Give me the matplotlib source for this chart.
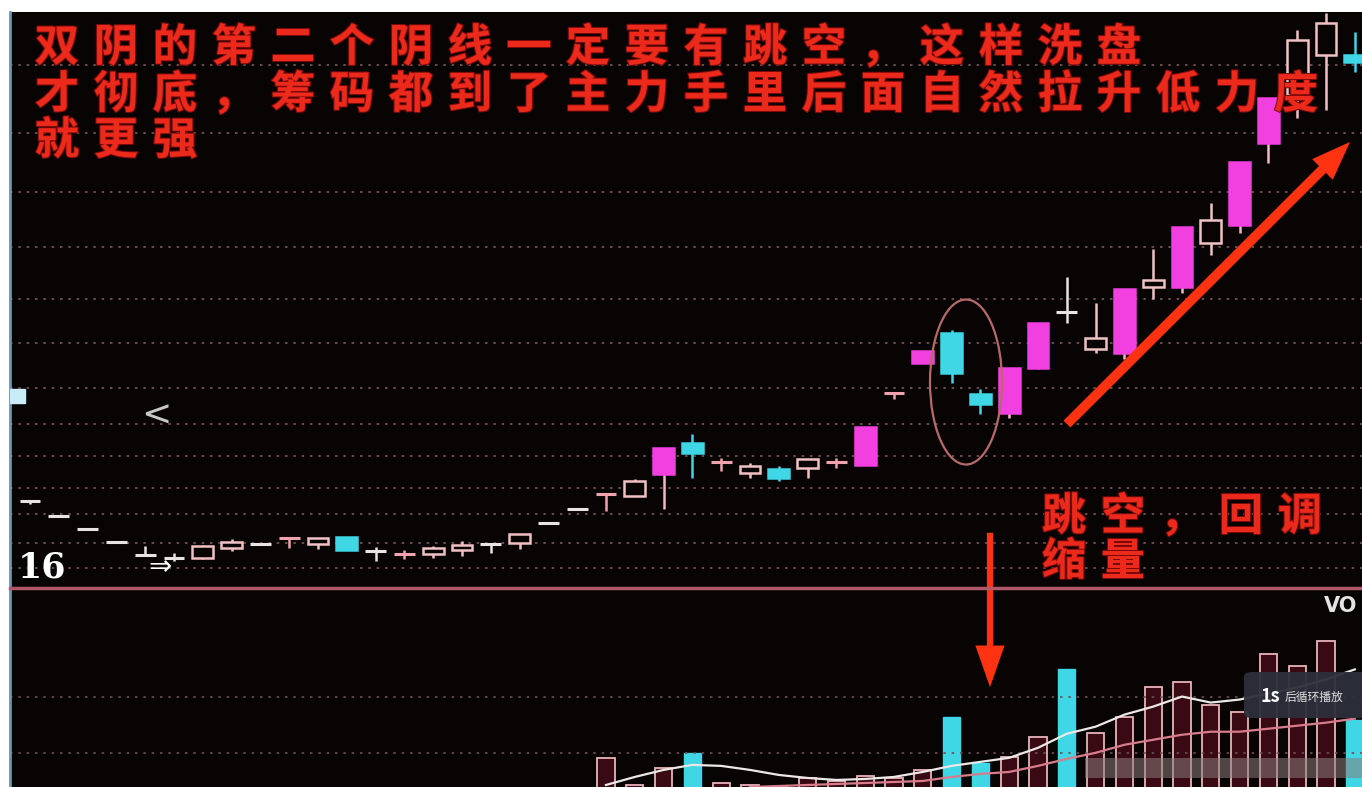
import numpy as np
import matplotlib
matplotlib.use("Agg")
import matplotlib.pyplot as plt
import matplotlib.patheffects as pe
from matplotlib.lines import Line2D
from matplotlib.patches import Ellipse, FancyArrowPatch, FancyBboxPatch, Rectangle

plt.rcParams["font.family"] = ["Noto Sans CJK SC", "DejaVu Sans"]

W, H = 1362, 787

# daily candles (price units)
opens = [18.48, 17.93, 17.44, 16.96, 16.48, 16.37, 16.37, 16.74, 16.89, 17.11,
         16.89, 17.15, 16.63, 16.52, 16.52, 16.67, 16.89, 16.93, 17.67, 18.19,
         18.74, 18.67, 19.48, 20.63, 19.93, 19.52, 19.67, 19.70, 19.93, 19.81,
         22.48, 23.56, 24.70, 22.44, 21.74, 23.41, 25.46, 24.11, 23.93, 26.37,
         26.37, 28.00, 28.67, 31.70, 33.48, 34.96, 34.96]
highs = [18.48, 17.93, 17.44, 16.96, 16.81, 16.56, 16.85, 17.07, 16.89, 17.11,
         17.11, 17.15, 16.78, 16.67, 16.81, 17.00, 16.89, 17.26, 17.67, 18.19,
         18.74, 19.30, 20.44, 20.96, 20.07, 19.89, 19.78, 20.04, 20.07, 21.22,
         22.48, 24.04, 24.78, 22.63, 23.41, 25.04, 26.74, 25.78, 26.33, 27.81,
         28.59, 29.48, 31.00, 33.37, 35.89, 36.52, 35.81]
lows = [18.37, 17.93, 17.44, 16.96, 16.48, 16.26, 16.33, 16.63, 16.89, 16.74,
        16.70, 16.67, 16.26, 16.33, 16.37, 16.44, 16.56, 16.70, 17.67, 18.19,
        18.11, 18.67, 18.19, 19.33, 19.59, 19.33, 19.22, 19.33, 19.70, 19.81,
        22.26, 23.56, 22.85, 21.70, 21.56, 23.37, 25.04, 23.96, 23.74, 25.96,
        26.15, 27.56, 28.37, 30.96, 32.63, 32.93, 34.33]
closes = [18.48, 17.93, 17.44, 16.96, 16.48, 16.37, 16.81, 16.96, 16.89, 17.11,
          17.11, 16.67, 16.63, 16.52, 16.74, 16.85, 16.89, 17.26, 17.67, 18.19,
          18.74, 19.22, 20.44, 20.26, 19.93, 19.78, 19.33, 20.04, 19.93, 21.22,
          22.48, 24.04, 23.22, 22.07, 23.41, 25.04, 25.44, 24.52, 26.33, 26.63,
          28.59, 28.85, 31.00, 33.37, 35.52, 36.15, 34.70]
# h = hollow up, m = highlighted up, c = down, d = white doji, p = pink doji
kinds = "dddddd" + "hhdphcdphhdhdd" + "phmcphchpmpmccmmdhmhmhmmhhc"

volumes = [9, 8, 7, 8, 6, 7, 9, 8, 6, 7, 8, 9, 6, 5, 7, 6, 7, 9, 8, 9,
           25.5, 12, 20.5, 28, 13, 12, 11.5, 15.5, 14, 16.5, 15.5, 19.5, 46, 23,
           26, 36, 69.5, 38, 46, 60.5, 63, 52, 48.5, 77, 71, 83.5, 44.5]
ma5_from = 20
vol_ma5 = [12, 16, 19.5, 22, 21.5, 19.5, 17, 15.5, 14.5, 15, 16, 18.5, 21.5,
           23.5, 25.5, 30.5, 37.5, 41, 47, 51, 56, 53, 54.5, 57.5, 60.5, 64.5, 69.5]
ma10_from = 25
vol_ma10 = [11, 11.5, 12, 12.5, 13, 13.5, 14, 16, 17.5, 18.5, 21.5, 25, 28, 32,
            34.5, 37, 38.5, 38.5, 40, 41.5, 43, 45]

price_grid = [16.00, 16.93, 18.00, 18.96, 20.15, 21.33, 22.67, 24.30, 25.96,
              27.85, 29.89, 32.07, 34.59]
vol_grid = [28, 56]

title_lines = ["双阴的第二个阴线一定要有跳空，这样洗盘",
               "才彻底，筹码都到了主力手里后面自然拉升低力度",
               "就更强"]
note_lines = ["跳空，回调", "缩量"]

BG = "#080404"
MAGENTA = "#f23fe0"
CYAN = "#3fd6e6"
HOLLOW = "#f0c2c4"
WHITE = "#e8e4e4"
PINK = "#f0a2ae"
RED = "#ec2a1c"


def fpx(x, y):
    return x / W, 1 - y / H


fig = plt.figure(figsize=(W / 100, H / 100), dpi=100, facecolor="white")
ax = fig.add_axes([10 / W, 1 - 589 / H, (W - 10) / W, 577 / H], facecolor=BG)
axv = fig.add_axes([10 / W, 0, (W - 10) / W, 1 - 589 / H], facecolor=BG)

x = np.arange(len(opens))
o, hi, lo, c = map(np.array, (opens, highs, lows, closes))
bw = 0.72

for i in x:
    k = kinds[i]
    top, bot = max(o[i], c[i]), min(o[i], c[i])
    if k in "dp":
        col = WHITE if k == "d" else PINK
        ax.vlines(i, lo[i], hi[i], color=col, lw=1.8, zorder=3)
        ax.hlines(o[i], i - bw / 2, i + bw / 2, color=col, lw=2.2, zorder=3)
        continue
    if k == "m":
        face, edge, wick = MAGENTA, MAGENTA, "#f0b8c8"
    elif k == "c":
        face, edge, wick = CYAN, CYAN, CYAN
    else:
        face, edge, wick = BG, HOLLOW, HOLLOW
    ax.vlines(i, top, hi[i], color=wick, lw=1.8, zorder=2)
    ax.vlines(i, lo[i], bot, color=wick, lw=1.8, zorder=2)
    ax.bar(i, top - bot, bw, bottom=bot, facecolor=face, edgecolor=edge,
           lw=1.8, zorder=3)

ax.set_xlim(-0.694, 46.25)
ax.set_ylim(15.222, 36.556)
ax.set_yticks(price_grid)
ax.set_xticks([])
ax.tick_params(left=False, labelleft=False)
ax.grid(axis="y", color="#7a5858", ls=(0, (1.5, 3.5)), lw=1.2)
for s in ax.spines.values():
    s.set_visible(False)
ax.spines["left"].set_visible(True)
ax.spines["left"].set_color("#7090b4")
ax.spines["left"].set_linewidth(2)

ax.text(-0.43, 16.0, "16", color="white", fontsize=25, fontweight="bold",
        family="DejaVu Serif", va="center", ha="left")
ax.add_patch(Rectangle((-0.694, 22.11), 0.52, 0.52, color="#c8ecf8", zorder=4))
ax.text(4.4, 21.63, "<", color="#c8c8c8", fontsize=26, family="DejaVu Sans",
        ha="center", va="center")
ax.text(4.5, 16.05, "⇒", color="white", fontsize=20, family="DejaVu Sans",
        ha="center", va="center")

# volume panel
vol = np.array(volumes)
down = c < o
axv.bar(x[~down], vol[~down], 0.6, facecolor="#3a0a14", edgecolor="#e8b4b8", lw=1.3)
axv.bar(x[down], vol[down], 0.6, facecolor=CYAN, edgecolor=CYAN, lw=1)
axv.plot(np.arange(ma5_from, ma5_from + len(vol_ma5)), vol_ma5, color="#ece8e8", lw=1.6)
axv.plot(np.arange(ma10_from, ma10_from + len(vol_ma10)), vol_ma10, color="#d87c8c", lw=1.6)
axv.set_xlim(-0.694, 46.25)
axv.set_ylim(11, 109.5)
axv.set_yticks(vol_grid)
axv.set_xticks([])
axv.tick_params(left=False, labelleft=False)
axv.grid(axis="y", color="#6a5050", ls=(0, (1.5, 3.5)), lw=1.2)
for s in axv.spines.values():
    s.set_visible(False)
axv.spines["left"].set_visible(True)
axv.spines["left"].set_color("#7090b4")
axv.spines["left"].set_linewidth(2)
fig.text(*fpx(1324, 606), "VO", color="#e4e4e4", fontsize=15, fontweight="bold",
         family="DejaVu Sans", va="center", ha="left")

# panel separator
fig.add_artist(Line2D([10 / W, 1], [1 - 588 / H] * 2, color="#b05868", lw=2.5))

# video overlays: blurred bar and replay tooltip
fig.add_artist(Rectangle(fpx(1085, 778), 277 / W, 20 / H, transform=fig.transFigure,
                         facecolor="#8a7c7c", alpha=0.55, edgecolor="none"))
fig.add_artist(FancyBboxPatch(fpx(1244, 718), 130 / W, 46 / H, transform=fig.transFigure,
                              boxstyle="round,pad=0,rounding_size=0.006",
                              facecolor="#2c303c", edgecolor="none", alpha=0.95))
fig.text(*fpx(1260, 696), "1s", color="white", fontsize=13, fontweight="bold",
         va="center", ha="left")
fig.text(*fpx(1285, 697), "后循环播放", color="#e0e0e0", fontsize=8.5,
         va="center", ha="left")

# red annotation text, one cell per character
stroke = [pe.withStroke(linewidth=1.5, foreground="#7a0a0a")]
for line, yc in zip(title_lines, [48, 95, 141]):
    for k, ch in enumerate(line):
        fig.text(*fpx(28 + 29 + 59 * k, yc), ch, color=RED, fontsize=32,
                 fontweight="bold", ha="center", va="center", path_effects=stroke)
for line, yc in zip(note_lines, [517, 562]):
    for k, ch in enumerate(line):
        fig.text(*fpx(1035 + 29 + 59 * k, yc), ch, color=RED, fontsize=32,
                 fontweight="bold", ha="center", va="center", path_effects=stroke)

# marks drawn on the video: ellipse and two arrows
fig.add_artist(Ellipse(fpx(966, 382), 72 / W, 165 / H, transform=fig.transFigure,
                       fill=False, edgecolor="#b86a6a", lw=1.6))
fig.add_artist(FancyArrowPatch(fpx(1065, 426), fpx(1352, 140), transform=fig.transFigure,
                               arrowstyle="simple,head_length=28,head_width=21,tail_width=7",
                               color="#ff3212", lw=0))
fig.add_artist(FancyArrowPatch(fpx(990, 530), fpx(990, 690), transform=fig.transFigure,
                               arrowstyle="simple,head_length=30,head_width=21,tail_width=4.5",
                               color="#ff3212", lw=0))

fig.savefig("out.png", dpi=100, facecolor=fig.get_facecolor())
